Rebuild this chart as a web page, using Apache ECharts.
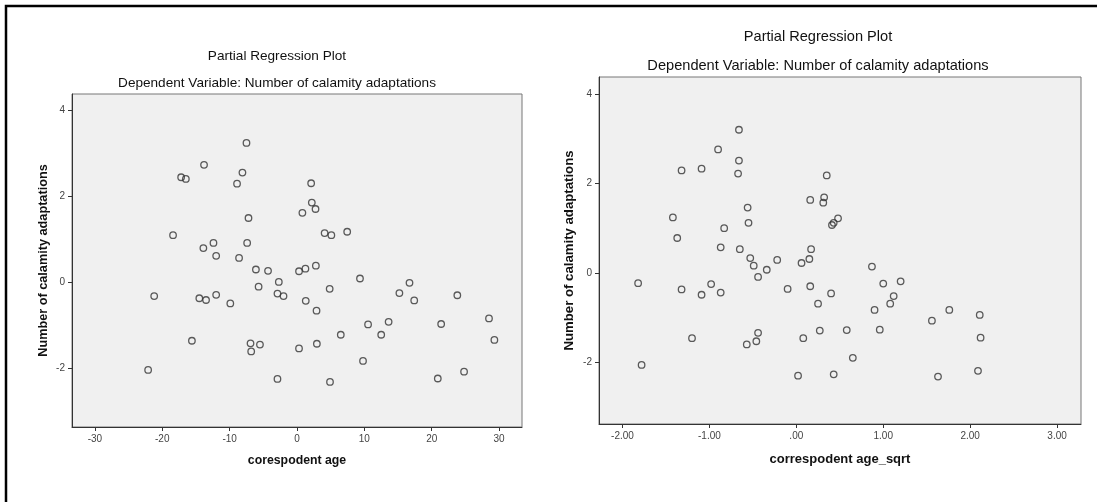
<!DOCTYPE html>
<html>
<head>
<meta charset="utf-8">
<script src="https://cdn.jsdelivr.net/npm/echarts@6/dist/echarts.min.js"></script>
<style>
  html, body { margin: 0; padding: 0; background: #fff; }
  #chart { width: 1097px; height: 502px; }
</style>
</head>
<body>
<div id="chart"></div>
<script>
// left plot: corespodent age vs number of calamity adaptations (residuals)
var leftAge = [-22.1, -21.2, -18.4, -17.2, -16.5, -15.6, -14.5, -13.9, -13.8, -13.5,
    -12.4, -12.0, -12.0, -9.9, -8.9, -8.6, -8.1, -7.5, -7.4, -7.2,
    -6.9, -6.8, -6.1, -5.7, -5.5, -4.3, -2.9, -2.9, -2.7, -2.0,
    0.3, 0.3, 0.8, 1.25, 1.3, 2.1, 2.2, 2.75, 2.8, 2.9,
    2.95, 4.1, 4.85, 4.9, 5.1, 6.5, 7.45, 9.35, 9.8, 10.55,
    12.5, 13.6, 15.2, 16.7, 17.4, 20.9, 21.4, 23.8, 24.8, 28.5, 29.3];
var leftAdapt = [-2.05, -0.33, 1.09, 2.44, 2.40, -1.37, -0.38, 0.79, 2.73, -0.42,
    0.91, 0.61, -0.30, -0.50, 2.29, 0.56, 2.55, 3.24, 0.91, 1.49,
    -1.43, -1.62, 0.29, -0.11, -1.46, 0.26, -0.27, -2.26, 0.00, -0.33,
    0.25, -1.55, 1.61, 0.31, -0.44, 2.30, 1.85, 1.70, 0.38, -0.67,
    -1.44, 1.14, -0.16, -2.33, 1.09, -1.23, 1.17, 0.08, -1.84, -0.99,
    -1.23, -0.93, -0.26, -0.02, -0.43, -2.25, -0.98, -0.31, -2.09, -0.85, -1.35];

// right plot: correspodent age_sqrt vs number of calamity adaptations
var rightAgeSqrt = [-1.82, -1.78, -1.42, -1.37, -1.32, -1.32, -1.20, -1.09, -1.09, -0.98,
    -0.90, -0.87, -0.87, -0.83, -0.67, -0.66, -0.66, -0.65, -0.57, -0.56,
    -0.55, -0.53, -0.49, -0.46, -0.44, -0.44, -0.34, -0.22, -0.10, 0.02,
    0.06, 0.08, 0.15, 0.16, 0.16, 0.17, 0.25, 0.27, 0.31, 0.32,
    0.35, 0.40, 0.41, 0.43, 0.43, 0.48, 0.58, 0.65, 0.87, 0.90,
    0.96, 1.00, 1.08, 1.12, 1.20, 1.56, 1.63, 1.76, 2.09, 2.11, 2.12];
var rightAdapt = [-0.23, -2.06, 1.24, 0.78, 2.29, -0.37, -1.46, 2.33, -0.49, -0.25,
    2.76, 0.57, -0.44, 1.00, 2.22, 3.20, 2.51, 0.53, -1.60, 1.46,
    1.12, 0.33, 0.16, -1.53, -0.09, -1.34, 0.07, 0.29, -0.36, -2.30,
    0.22, -1.46, 0.31, -0.30, 1.63, 0.53, -0.69, -1.29, 1.57, 1.69,
    2.18, -0.46, 1.07, 1.12, -2.27, 1.22, -1.28, -1.90, 0.14, -0.83,
    -1.27, -0.24, -0.69, -0.52, -0.19, -1.07, -2.32, -0.83, -2.19, -0.94, -1.45];

// tick values / labels
var leftXTicks = [-30, -20, -10, 0, 10, 20, 30];
var yTicks = [-2, 0, 2, 4];
var rightXTicks = [-2, -1, 0, 1, 2, 3];
var rightXTickLabels = ['-2.00', '-1.00', '.00', '1.00', '2.00', '3.00'];

var titleText = 'Partial Regression Plot';
var subText = 'Dependent Variable: Number of calamity adaptations';
var yName = 'Number of calamity adaptations';

function pairs(xs, ys) {
    var out = [];
    for (var i = 0; i < xs.length; i++) {
        out.push([xs[i], ys[i]]);
    }
    return out;
}

var chart = echarts.init(document.getElementById('chart'));

var tickLabel = { fontFamily: 'Liberation Sans', fontSize: 10, color: '#444', margin: 7 };
var axisName = { fontFamily: 'Liberation Sans', fontWeight: 'bold', color: '#111' };

function xAxisOpt(grid, min, max, ticks, fmt, name, gap, size) {
    return {
        type: 'value', gridIndex: grid, min: min, max: max,
        name: name, nameLocation: 'middle', nameGap: gap,
        nameTextStyle: Object.assign({ fontSize: size }, axisName),
        axisLine: { show: true, onZero: false, lineStyle: { color: '#333', width: 1 } },
        axisTick: { show: true, length: 4, customValues: ticks, lineStyle: { color: '#333' } },
        axisLabel: Object.assign({ customValues: ticks, formatter: fmt }, tickLabel),
        splitLine: { show: false }
    };
}

function yAxisOpt(grid, gap, size) {
    return {
        type: 'value', gridIndex: grid, min: -3.38, max: 4.38,
        name: yName, nameLocation: 'middle', nameGap: gap,
        nameTextStyle: Object.assign({ fontSize: size }, axisName),
        axisLine: { show: true, onZero: false, lineStyle: { color: '#333', width: 1 } },
        axisTick: { show: true, length: 4, customValues: yTicks, lineStyle: { color: '#333' } },
        axisLabel: Object.assign({ customValues: yTicks, formatter: '{value}' }, tickLabel),
        splitLine: { show: false }
    };
}

var pointStyle = { color: 'rgba(0,0,0,0)', borderColor: '#333', borderWidth: 1.3 };

var option = {
    animation: false,
    backgroundColor: '#fff',
    grid: [
        { left: 72, top: 94, width: 450, height: 333, show: true,
          backgroundColor: '#f0f0f0', borderColor: '#777', borderWidth: 1 },
        { left: 599, top: 77, width: 482, height: 347, show: true,
          backgroundColor: '#f0f0f0', borderColor: '#777', borderWidth: 1 }
    ],
    xAxis: [
        xAxisOpt(0, -33.4, 33.4, leftXTicks, '{value}', 'corespodent age', 28, 12.3),
        xAxisOpt(1, -2.27, 3.275, rightXTicks, function (v) {
            return rightXTickLabels[rightXTicks.indexOf(v)];
        }, 'correspodent age_sqrt', 29, 13)
    ],
    yAxis: [
        yAxisOpt(0, 22, 12.7),
        yAxisOpt(1, 23, 13.2)
    ],
    graphic: [
        { type: 'polyline', silent: true,
          shape: { points: [[6, 502], [6, 6], [1097, 6]] },
          style: { stroke: '#000', lineWidth: 2.5, fill: null } },
        { type: 'text', x: 277, y: 56, silent: true,
          style: { text: titleText, font: '13.6px "Liberation Sans"', fill: '#111', align: 'center', verticalAlign: 'middle' } },
        { type: 'text', x: 277, y: 83, silent: true,
          style: { text: subText, font: '13.6px "Liberation Sans"', fill: '#111', align: 'center', verticalAlign: 'middle' } },
        { type: 'text', x: 818, y: 37, silent: true,
          style: { text: titleText, font: '14.6px "Liberation Sans"', fill: '#111', align: 'center', verticalAlign: 'middle' } },
        { type: 'text', x: 818, y: 66, silent: true,
          style: { text: subText, font: '14.6px "Liberation Sans"', fill: '#111', align: 'center', verticalAlign: 'middle' } }
    ],
    series: [
        { type: 'scatter', xAxisIndex: 0, yAxisIndex: 0, symbol: 'circle', symbolSize: 6.5,
          itemStyle: pointStyle, data: pairs(leftAge, leftAdapt) },
        { type: 'scatter', xAxisIndex: 1, yAxisIndex: 1, symbol: 'circle', symbolSize: 6.5,
          itemStyle: pointStyle, data: pairs(rightAgeSqrt, rightAdapt) }
    ]
};

chart.setOption(option);
</script>
</body>
</html>
